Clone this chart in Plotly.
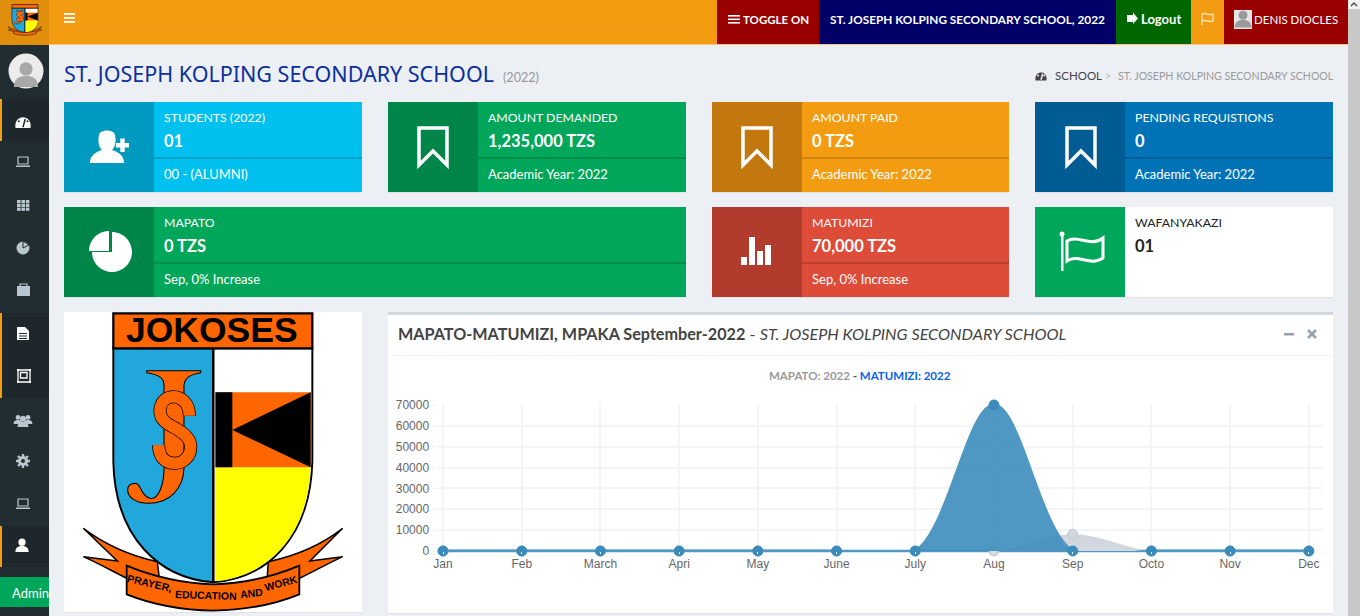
import re
import plotly.graph_objects as go

W, H = 1360, 616

months = ["Jan", "Feb", "March", "Apri", "May", "June", "July", "Aug", "Sep", "Octo", "Nov", "Dec"]
mapato = [0, 0, 0, 0, 0, 0, 0, 0, 8000, 0, 0, 0]
matumizi = [0, 0, 0, 0, 0, 0, 0, 70000, 0, 0, 0, 0]
y_ticks = [0, 10000, 20000, 30000, 40000, 50000, 60000, 70000]

BODY = "Lato"
AXIS = "Liberation Sans"

shapes = []
notes = []


def fx(x):
    return x / W


def fy(y):
    return 1 - y / H


def pth(d, tf=None):
    # path written in screen pixels, turned into paper fractions
    out = []
    nums = []
    for tok in re.findall(r"[MLCZ]|-?[\d.]+", d):
        if tok in "MLCZ":
            out.append(tok)
        else:
            nums.append(float(tok))
            if len(nums) == 2:
                x, y = tf(*nums) if tf else nums
                out.append(f"{fx(x):.5f},{fy(y):.5f}")
                nums = []
    return " ".join(out)


def rect(x0, y0, x1, y1, color, line=None, w=0):
    shapes.append(dict(type="rect", xref="paper", yref="paper", layer="below",
                       x0=fx(x0), x1=fx(x1), y0=fy(y0), y1=fy(y1), fillcolor=color,
                       line=dict(color=line or color, width=w)))


def circle(cx, cy, r, color, line=None, w=0):
    shapes.append(dict(type="circle", xref="paper", yref="paper", layer="below",
                       x0=fx(cx - r), x1=fx(cx + r), y0=fy(cy + r), y1=fy(cy - r), fillcolor=color,
                       line=dict(color=line or color, width=w)))


def path(d, fill=None, line=None, w=0, tf=None):
    s = dict(type="path", xref="paper", yref="paper", layer="below", path=pth(d, tf),
             line=dict(color=line or "rgba(0,0,0,0)", width=w))
    if fill:
        s["fillcolor"] = fill
    shapes.append(s)


def txt(x, y, s, size=13, color="#fff", font=BODY, anchor="left", angle=0):
    notes.append(dict(xref="paper", yref="paper", x=fx(x), y=fy(y), text=s, showarrow=False,
                      xanchor=anchor, yanchor="middle", textangle=angle, borderpad=0, borderwidth=0,
                      font=dict(size=size, color=color, family=font)))


def bookmark(cx, top, color="#fff"):
    path(f"M{cx-14} {top} L{cx+14} {top} L{cx+14} {top+37} L{cx} {top+23} L{cx-14} {top+37} Z",
         line=color, w=3.5)


def person(cx, cy, s, color):
    circle(cx, cy - 3.2 * s, 3 * s, color)
    path(f"M{cx-5.5*s} {cy+5*s} C{cx-5.5*s} {cy+1*s} {cx-3*s} {cy} {cx} {cy} "
         f"C{cx+3*s} {cy} {cx+5.5*s} {cy+1*s} {cx+5.5*s} {cy+5*s} Z", fill=color)


def laptop(cx, cy, color):
    path(f"M{cx-5} {cy-5} L{cx+5} {cy-5} L{cx+5} {cy+2} L{cx-5} {cy+2} Z", line=color, w=1.2)
    rect(cx - 7, cy + 3.5, cx + 7, cy + 5, color)


def gauge(cx, cy, r, color, dark):
    path(f"M{cx-r} {cy+r*0.8} C{cx-r*1.3} {cy-r*1.1} {cx+r*1.3} {cy-r*1.1} {cx+r} {cy+r*0.8} Z", fill=color)
    path(f"M{cx} {cy+r*0.7} L{cx+r*0.3} {cy-r*0.4}", line=dark, w=1.5)
    for dx in (-0.55, 0.6):
        circle(cx + dx * r, cy - 0.1 * r, 1, dark)


# page
rect(0, 0, W, H, "#ecf0f5")
rect(1348, 0, W, H, "#c8c8c8")
rect(1348, 0, W, 9, "#f1f1f1")
path("M1351 6 L1354 3 L1357 6", line="#555", w=1.5)

# top bar
rect(49, 0, 1348, 44.5, "#f39c12")
rect(0, 0, 49, 45, "#e08e0b")
rect(717, 0, 819, 44, "#990000")
rect(819, 0, 1116, 44, "#000066")
rect(1116, 0, 1191, 44, "#006600")
rect(1224, 0, 1348, 44, "#990000")
for yy in (14, 18, 22):
    rect(64, yy - 1, 75, yy + 0.8, "#fff")
for yy in (16, 19.5, 23):
    rect(728, yy - 1, 740, yy + 0.6, "#fff")
path("M1127 15 L1133 15 L1133 12.5 L1138 18.5 L1133 24 L1133 22 L1127 22 Z", fill="#fff")
path("M1202 25 L1202 14 C1206 12 1209 16 1213 14 L1213 21 C1209 23 1206 19 1202 21", line="#ffe9b0", w=1.3)
rect(1234, 10, 1252, 29, "#e6e6e6")
person(1243, 20, 1.5, "#9a9a9a")
txt(743, 19.5, "<b>TOGGLE ON</b>", 11.5)
txt(830, 19.5, "<b>ST. JOSEPH KOLPING SECONDARY SCHOOL, 2022</b>", 11.8)
txt(1141, 19.5, "<b>Logout</b>", 13)
txt(1254, 19.5, "DENIS DIOCLES", 11.5)

# sidebar
rect(0, 45, 49, H, "#222d32")
for y0, y1 in ((99, 141), (313, 398), (526, 567)):
    rect(0, y0, 49, y1, "#1e282c")
    rect(0, y0, 2, y1, "#f39c12")
circle(26, 71, 17.5, "#ebebeb")
person(26, 76, 2.2, "#a8a8a8")
gauge(23, 122, 7.5, "#fff", "#1e282c")
laptop(23, 162, "#b8c7ce")
for i in range(3):
    for j in range(3):
        rect(17 + i * 4.4, 200 + j * 3.8, 20.6 + i * 4.4, 203.2 + j * 3.8, "#b8c7ce")
circle(23, 248, 6.5, "#b8c7ce")
path("M23 248 L23 241 L29 245 Z", line="#222d32", w=1)
rect(17, 286, 30, 296, "#b8c7ce")
path("M20 286 L20 284 L27 284 L27 286", line="#b8c7ce", w=1.2)
path("M17 327 L25 327 L29 331 L29 340 L17 340 Z", fill="#fff")
for yy in (333, 335.5, 338):
    rect(19, yy, 27, yy + 1, "#1e282c")
path("M18 370 L30 370 L30 382 L18 382 Z", line="#fff", w=1.3)
path("M20.5 372.5 L27 372.5 L27 378 L20.5 378 Z", line="#fff", w=1.3)
for cx in (18, 30):
    for cy in (370, 382):
        rect(cx - 1, cy - 1, cx + 1, cy + 1, "#fff")
person(18, 420, 0.8, "#b8c7ce")
person(28, 420, 0.8, "#b8c7ce")
person(23, 422, 1.0, "#b8c7ce")
path("M23 454 L23 468 M16 461 L30 461 M18 456 L28 466 M28 456 L18 466", line="#b8c7ce", w=2.4)
circle(23, 461, 5, "#b8c7ce")
circle(23, 461, 2, "#222d32")
laptop(23, 504, "#b8c7ce")
person(22, 546, 1.2, "#fff")
rect(0, 577, 49, 607, "#00a65a")
txt(12, 592.5, "Admini", 13)

# heading
txt(64, 74, "ST. JOSEPH KOLPING SECONDARY SCHOOL", 21.5, "#0b2f9c", font="Noto Sans")
txt(503, 77, "(2022)", 12.6, "#999999")
gauge(1041, 76, 5.5, "#444", "#ecf0f5")
txt(1055, 76, "SCHOOL", 11.5, "#444")
txt(1105, 76, "&gt;", 11, "#bbbbbb")
txt(1118, 76, "ST. JOSEPH KOLPING SECONDARY SCHOOL", 10.6, "#9a9a9a")

# info boxes: colours are card, icon panel, divider
cards = [
    (64, 362, 102, "#00c0ef", "#009ac0", "#00a3cb", "STUDENTS (2022)", "01", "00 - (ALUMNI)"),
    (388, 686, 102, "#00a65a", "#008548", "#008d4c", "AMOUNT DEMANDED", "1,235,000 TZS", "Academic Year: 2022"),
    (712, 1009, 102, "#f39c12", "#c2780e", "#cf8510", "AMOUNT PAID", "0 TZS", "Academic Year: 2022"),
    (1035, 1333, 102, "#0073b7", "#005c92", "#005f99", "PENDING REQUISTIONS", "0", "Academic Year: 2022"),
    (64, 686, 207, "#00a65a", "#008548", "#008d4c", "MAPATO", "0 TZS", "Sep, 0% Increase"),
    (712, 1009, 207, "#dd4b39", "#b13c2e", "#bc4031", "MATUMIZI", "70,000 TZS", "Sep, 0% Increase"),
]
for x0, x1, y0, col, dark, mid, label, value, foot in cards:
    rect(x0, y0 + 89, x1, y0 + 91, "#dfe3e8")
    rect(x0, y0, x1, y0 + 90, col)
    rect(x0, y0, x0 + 90, y0 + 90, dark)
    rect(x0 + 90, y0 + 55, x1, y0 + 57, mid)
    txt(x0 + 100, y0 + 15.5, label, 12.3)
    txt(x0 + 100, y0 + 38.5, f"<b>{value}</b>", 16.5)
    txt(x0 + 100, y0 + 72.5, foot, 13)

rect(1035, 296, 1333, 298, "#dfe3e8")
rect(1035, 207, 1333, 297, "#ffffff")
rect(1035, 207, 1125, 297, "#00a65a")
txt(1135, 222.5, "WAFANYAKAZI", 12.3, "#222")
txt(1135, 245.5, "<b>01</b>", 16.5, "#222")

# card icons
path("M90 163 C90 155 96 152 102 150 C98 146 98 140 99 135 C100 129 114 129 115 135 "
     "C116 140 116 146 112 150 C118 152 124 155 124 163 Z", fill="#fff")
rect(116, 143, 129, 147.5, "#fff")
rect(120.3, 138.5, 124.7, 152, "#fff")
bookmark(433, 128)
bookmark(757, 128)
bookmark(1081, 128)
k = 20 * 0.5523
path(f"M112 232 C{112+k} 232 132 {252-k} 132 252 C132 {252+k} {112+k} 272 112 272 "
     f"C{112-k} 272 92 {252+k} 92 252 L112 252 Z", fill="#fff")
path(f"M109 231 L109 251 L89 251 C89 {251-k} {109-k} 231 109 231 Z", fill="#fff")
rect(741, 257, 747, 265, "#fff")
rect(749, 237, 755, 265, "#fff")
rect(757, 251, 763, 265, "#fff")
rect(765, 245, 771, 265, "#fff")
circle(1062, 234, 2.5, "#fff")
rect(1061, 234, 1063.5, 271, "#fff")
path("M1067 241 C1078 234 1090 248 1103 238 L1103 258 C1090 267 1078 253 1067 261 Z", line="#fff", w=3)

# logo card, written in its own coordinates and placed by a transform


def draw_logo(tf, lw):
    orange = "#ff6600"
    path("M70 670 C130 715 210 752 292 770 L297 812 L205 822 C160 800 115 775 70 755 L172 768 Z",
         fill=orange, line="#000", w=lw, tf=tf)
    path("M848 670 C790 715 710 752 625 770 L622 812 L715 822 C760 800 805 775 848 755 L750 768 Z",
         fill=orange, line="#000", w=lw, tf=tf)
    path("M160 130 L460 130 L460 832 C300 820 165 700 160 470 Z", fill="#22a7dc", line="#000", w=lw * 1.3, tf=tf)
    path("M460 130 L757 130 L757 470 C750 700 620 820 460 832 Z", fill="#ffffff", line="#000", w=lw * 1.3, tf=tf)
    path("M465 487 L752 487 C745 695 620 815 465 829 Z", fill="#ffff00", tf=tf)
    path("M465 262 L752 262 L752 487 L465 487 Z", fill=orange, tf=tf)
    path("M467 262 L517 262 L517 487 L467 487 Z", fill="#000", tf=tf)
    path("M517 375 L752 262 L752 487 Z", fill="#000", tf=tf)
    path("M460 130 L460 832", line="#000", w=lw * 1.3, tf=tf)
    path("M160 25 L757 25 L757 130 L160 130 Z", fill=orange, line="#000", w=lw * 1.5, tf=tf)
    path("M260 197 L422 197 L422 203 C395 208 375 215 372 240 L372 490 C370 550 330 595 265 595 "
         "C225 595 203 575 203 555 C203 540 215 535 228 535 C245 540 240 570 270 580 "
         "C295 585 312 540 312 490 L312 240 C312 215 290 208 260 203 Z",
         fill=orange, line="#000", w=lw * 0.7, tf=tf)
    s_line = ("M388 332 C388 290 360 275 340 275 C315 275 300 295 300 318 C300 350 330 360 355 375 "
              "C380 390 392 405 392 425 C392 455 370 475 345 475 C310 475 296 450 296 420")
    path(s_line, line="#000", w=lw * 8.7, tf=tf)
    path(s_line, line=orange, w=lw * 7.7, tf=tf)
    path("M200 782 C280 815 360 835 460 838 C560 835 640 815 718 782 L718 868 "
         "C640 900 560 915 460 917 C360 915 280 900 200 868 Z", fill=orange, line="#000", w=lw * 1.2, tf=tf)


rect(64, 611, 362, 613, "#dfe3e8")
rect(64, 312, 362, 612, "#ffffff")
draw_logo(lambda a, b: (60 + a / 3, 305 + b / 3), 1.5)
draw_logo(lambda a, b: (8 + (a - 70) * 0.0437, 4.5 + (b - 25) * 0.0345), 0.4)
txt(212, 329.5, "<b>JOKOSES</b>", 35.5, "#000", font="Liberation Sans", anchor="center")
BAN = "Liberation Sans"
txt(60 + 270 / 3, 305 + 833 / 3, "<b>PRAYER,</b>", 10.5, "#000", font=BAN, anchor="center", angle=13)
txt(60 + 437 / 3, 305 + 871 / 3, "<b>EDUCATION</b>", 10.5, "#000", font=BAN, anchor="center", angle=2)
txt(60 + 575 / 3, 305 + 864 / 3, "<b>AND</b>", 10.5, "#000", font=BAN, anchor="center", angle=-6)
txt(60 + 662 / 3, 305 + 833 / 3, "<b>WORK</b>", 10.5, "#000", font=BAN, anchor="center", angle=-15)

# chart card
rect(388, 612, 1333, 614, "#dfe3e8")
rect(388, 312, 1333, 613, "#ffffff")
rect(388, 312, 1333, 315, "#d2d6de")
rect(388, 355, 1333, 356, "#f4f4f4")
txt(398, 333.8, "<b>MAPATO-MATUMIZI, MPAKA September-2022</b> - <i>ST. JOSEPH KOLPING SECONDARY SCHOOL</i>",
    16.2, "#444")
rect(1284, 333, 1294, 335.5, "#97a0b3")
path("M1308 330 L1316 338 M1316 330 L1308 338", line="#97a0b3", w=2.5)
txt(860, 375.5, '<b><span style="color:#999999">MAPATO: 2022</span> - '
    '<span style="color:#0b5fe8">MATUMIZI: 2022</span></b>', 11.5, "#555", anchor="center")

# baseline sits on the edge of the plot area so it has to be a shape
shapes.append(dict(type="line", xref="x", yref="paper", layer="below", x0=months[0], x1=months[-1],
                   y0=fy(551), y1=fy(551), line=dict(color="#4f98c3", width=2.5)))

fig = go.Figure()
fig.add_trace(go.Scatter(
    x=months, y=mapato, mode="lines+markers", fill="tozeroy", fillcolor="rgb(210,214,222)",
    line=dict(shape="spline", smoothing=1, color="rgb(210,214,222)", width=0),
    marker=dict(size=10, color="rgb(210,214,222)", line=dict(color="#c1c7d1", width=1)),
    cliponaxis=False, name="MAPATO"))
fig.add_trace(go.Scatter(
    x=months, y=matumizi, mode="lines+markers", fill="tozeroy", fillcolor="rgba(60,141,188,0.9)",
    line=dict(shape="spline", smoothing=1, color="#4f98c3", width=3),
    marker=dict(size=10, color="#3b8bba", line=dict(color="#3b8bba", width=1)),
    cliponaxis=False, name="MATUMIZI"))

fig.update_layout(
    width=W, height=H, autosize=False, margin=dict(l=0, r=0, t=0, b=0, pad=0),
    paper_bgcolor="#ecf0f5", plot_bgcolor="rgba(0,0,0,0)", showlegend=False,
    shapes=shapes, annotations=notes,
    xaxis=dict(domain=[fx(437.5), fx(1323)], type="category", categoryorder="array", categoryarray=months,
               range=[-0.07, 11.18], tickmode="array", tickvals=months, showgrid=True, gridcolor="#f4f4f4",
               gridwidth=2, zeroline=False, showline=False, ticks="outside", ticklen=2, tickcolor="#f4f4f4",
               automargin=False, tickfont=dict(family=AXIS, size=12, color="#666666")),
    yaxis=dict(domain=[fy(551), fy(405)], range=[0, 70000], tickmode="array", tickvals=y_ticks,
               tickformat="d", showgrid=True, gridcolor="#f4f4f4", gridwidth=2, zeroline=False, showline=False,
               ticks="outside", ticklen=5, tickcolor="#f4f4f4",
               automargin=False, tickfont=dict(family=AXIS, size=12, color="#666666")),
)

# the page's default body margin would push the fixed-size figure out of the window
fig.write_html("out.html", config={"displayModeBar": False},
               post_script="document.body.style.margin='0';document.body.style.overflow='hidden';")
